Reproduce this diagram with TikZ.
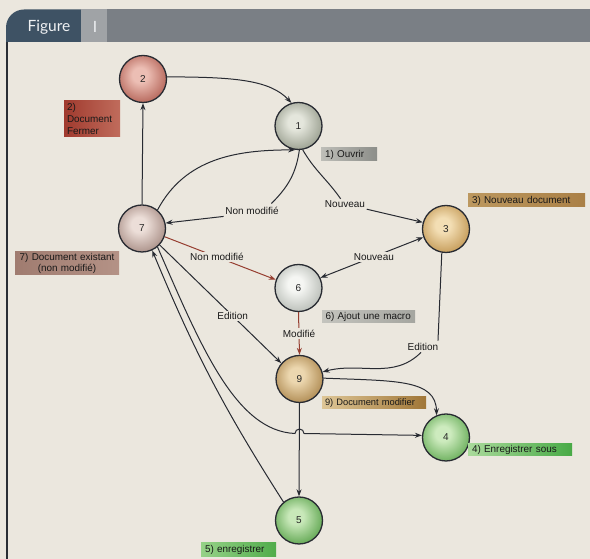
\documentclass[tikz,border=0pt]{standalone}
\usepackage{fontspec}
\setmainfont{Liberation Sans}
\newfontfamily\headfont{Lato}
\usetikzlibrary{arrows.meta,calc}

% paper and ink colours
\definecolor{paper}{RGB}{235,231,222}
\definecolor{ink}{RGB}{40,43,50}
\definecolor{redink}{RGB}{150,62,48}
\definecolor{tabdark}{RGB}{62,82,100}
\definecolor{tablight}{RGB}{160,163,166}
\definecolor{barmid}{RGB}{122,127,133}
\definecolor{frameline}{RGB}{42,46,52}

% sphere-like shading for the states, driven by two colours
\colorlet{ballin}{white}
\colorlet{ballout}{gray}
\pgfdeclareradialshading[ballin,ballout]{sphere}{\pgfpoint{-4bp}{5bp}}{%
  color(0bp)=(ballin); color(8bp)=(ballin); color(27bp)=(ballout);
  color(31bp)=(ballout!82!black); color(50bp)=(ballout!82!black)}

\begin{document}
\begin{tikzpicture}[x=1pt,y=1pt,
  state/.style={circle, draw=ink, line width=1.3pt, minimum size=47pt,
    inner sep=0pt, font=\fontsize{10}{11}\selectfont, text=black!85},
  ball/.style 2 args={shading=sphere,
    /utils/exec={\colorlet{ballin}{#1}\colorlet{ballout}{#2}}},
  tag/.style={inner xsep=4pt, inner ysep=1pt, align=left,
    font=\fontsize{9.9}{11.6}\selectfont, text=black!90},
  elab/.style={inner sep=1.5pt, font=\fontsize{10}{11.5}\selectfont, text=black!90},
  cut/.style={elab, fill=paper},
  line/.style={draw=ink, line width=1pt},
  edge/.style={line, -{Stealth[length=7pt,width=5pt]}},
  redge/.style={edge, draw=redink},
  both/.style={line, {Stealth[length=7pt,width=5pt]}-{Stealth[length=7pt,width=5pt]}},
  headtext/.style={font=\headfont\fontsize{15.5}{17}\selectfont, text=white!92!tabdark, inner sep=0pt}
]
\useasboundingbox (0,0) rectangle (590,559);
\fill[paper] (0,0) rectangle (590,559);

% header band
\fill[barmid] (107,517) rectangle (590,549.5);
\fill[tabdark] (6,517) -- (6,531.5) arc[start angle=180, end angle=90, radius=18] -- (81,549.5) -- (81,517) -- cycle;
\fill[tablight] (81,517) rectangle (107,549.5);
\node[headtext] (figword) at (49,532) {Figure};
\node[headtext] (fignum) at (95,532) {I};
\draw[frameline, line width=1.6pt] (7,517) -- (7,0);

% states
\node[state, ball={rgb,255:red,236;green,190;blue,180}{rgb,255:red,185;green,108;blue,96}] (n2) at (143,480) {2};
\node[state, ball={rgb,255:red,228;green,230;blue,220}{rgb,255:red,160;green,165;blue,150}] (n1) at (298.5,433) {1};
\node[state, ball={rgb,255:red,243;green,222;blue,180}{rgb,255:red,200;green,160;blue,95}] (n3) at (446,330) {3};
\node[state, ball={rgb,255:red,236;green,222;blue,216}{rgb,255:red,175;green,150;blue,142}] (n7) at (142,330.5) {7};
\node[state, ball={rgb,255:red,245;green,246;blue,243}{rgb,255:red,190;green,194;blue,188}] (n6) at (298.5,271) {6};
\node[state, ball={rgb,255:red,236;green,215;blue,175}{rgb,255:red,180;green,145;blue,90}] (n9) at (299.5,180) {9};
\node[state, ball={rgb,255:red,205;green,235;blue,190}{rgb,255:red,115;green,180;blue,100}] (n4) at (446,121.5) {4};
\node[state, ball={rgb,255:red,200;green,232;blue,185}{rgb,255:red,105;green,172;blue,90}] (n5) at (299,38.5) {5};

% captions beside the states
\node[tag, inner xsep=3pt, text width=50pt, minimum height=36pt,
  left color={rgb,255:red,160;green,58;blue,46}, right color={rgb,255:red,192;green,108;blue,92}] (lab2) at (92,440) {2)\\Document\\Fermer};
\node[tag, text width=48pt, minimum height=13pt,
  left color={rgb,255:red,190;green,190;blue,184}, right color={rgb,255:red,140;green,142;blue,137}] (lab1) at (349,404.5) {\mbox{1) Ouvrir}};
\node[tag, text width=109pt, minimum height=13pt,
  left color={rgb,255:red,188;green,152;blue,95}, right color={rgb,255:red,170;green,128;blue,70}] (lab3) at (526.5,358.5) {\mbox{3) Nouveau document}};
\node[tag, align=center, text width=98pt, inner xsep=3pt, minimum height=23pt, inner ysep=0.5pt,
  left color={rgb,255:red,160;green,124;blue,112}, right color={rgb,255:red,180;green,146;blue,134}] (lab7) at (67,295.5) {\mbox{7) Document existant}\\(non modifié)};
\node[tag, inner xsep=3.5pt, text width=86pt, minimum height=12pt,
  left color={rgb,255:red,196;green,196;blue,190}, right color={rgb,255:red,165;green,166;blue,160}] (lab6) at (368.5,242) {\mbox{6) Ajout une macro}};
\node[tag, inner xsep=3pt, text width=98pt, minimum height=12pt, font=\fontsize{9.3}{11}\selectfont,
  left color={rgb,255:red,222;green,198;blue,150}, right color={rgb,255:red,160;green,118;blue,55}] (lab9) at (374,156) {\mbox{9) Document modifier}};
\node[tag, text width=96pt, minimum height=12pt,
  left color={rgb,255:red,170;green,218;blue,155}, right color={rgb,255:red,72;green,170;blue,70}] (lab4) at (520,109) {\mbox{4) Enregistrer sous}};
\node[tag, text width=67pt, minimum height=14pt,
  left color={rgb,255:red,150;green,210;blue,135}, right color={rgb,255:red,80;green,172;blue,75}] (lab5) at (238.5,9) {\mbox{5) enregistrer}};

% free-standing edge labels
\node[elab] (lnm1) at (252,348) {Non modifié};
\node[elab] (lnv1) at (345,355) {Nouveau};
\node[elab] (led2) at (423,212) {Edition};
\coordinate (hop) at (299.5,125.5);

% transitions
\draw[edge] (n2.5) .. controls (235,482) and (270,479) .. (n1.107);
\draw[edge] (n7.north) -- (n2.south);
\draw[edge] (n7.50) to[out=62, in=180] (n1.262);
\draw[line] (n1.272) to[out=262, in=45] ($(lnm1.north east)+(-9,2)$);
\draw[edge] (lnm1.south west) -- (n7.13);
\draw[line] (n1.280) to[out=-60, in=125] (lnv1.130);
\draw[edge] (lnv1.south east) -- (n3.164);
\draw[both] (n6.25) -- (n3.200) node[cut, pos=0.52] (lnv2) {Nouveau};
\draw[redge] (n7.-20) -- (n6.160) node[cut, pos=0.47] (lnm2) {Non modifié};
\draw[edge] (n7.-43) -- (n9.139) node[cut, pos=0.6] (led1) {Edition};
\draw[redge] (n6.south) -- (n9.north) node[cut, midway] (lmod) {Modifié};
\draw[line] (n3.260) -- ($(led2.north east)+(-2,1)$);
\draw[edge] (led2.250) to[out=225, in=15] (n9.17);
\draw[edge] (n9.2) .. controls (395,178) and (436,180) .. (n4.113);
\draw[edge] (n7.-50) .. controls (200,215) and (235,128) .. ($(hop)+(-4.5,0)$)
  arc[start angle=180, end angle=0, radius=4.5] -- (n4.175);
\draw[edge] (n9.south) -- (n5.north);
\draw[edge] (n5.130) to[bend left=5] (n7.-65);
\end{tikzpicture}
\end{document}
